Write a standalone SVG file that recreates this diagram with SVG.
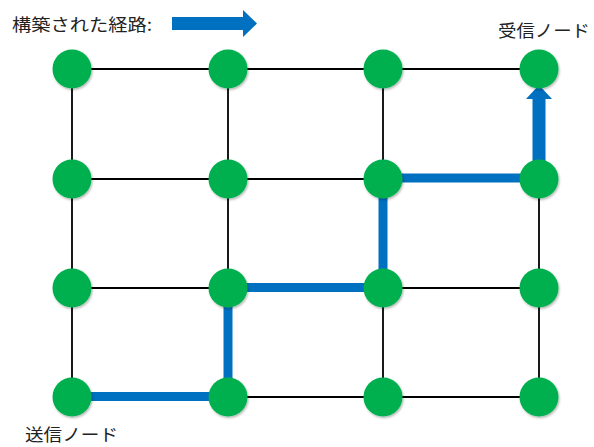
<svg xmlns="http://www.w3.org/2000/svg" width="594" height="447" viewBox="0 0 594 447">
<defs>
<style>
.grid{stroke:#000;stroke-width:1.8;fill:none}
.path{stroke:#0070C0;stroke-width:9;fill:none;stroke-linecap:butt}
.node{fill:#00B050;filter:url(#sh)}
.lbl{font-family:"Noto Sans CJK JP",sans-serif;font-size:17px;fill:#222}
.arrow{fill:#0070C0}
</style>
<filter id="sh" x="-30%" y="-30%" width="160%" height="160%">
<feDropShadow dx="1" dy="1.5" stdDeviation="1.2" flood-color="#000" flood-opacity="0.3"/>
</filter>
</defs>
<rect width="594" height="447" fill="#fff"/>
<g id="legend">
<text class="lbl" x="12" y="31" textLength="140" lengthAdjust="spacingAndGlyphs">構築された経路:</text>
<polygon class="arrow" points="172,17 243,17 243,10 257,23.5 243,37 243,30 172,30"/>
</g>
<g id="connectors">
<g class="grid">
<line x1="72" y1="69" x2="539" y2="69"/>
<line x1="72" y1="179" x2="539" y2="179"/>
<line x1="72" y1="288" x2="539" y2="288"/>
<line x1="72" y1="397" x2="539" y2="397"/>
<line x1="72" y1="69" x2="72" y2="397"/>
<line x1="228" y1="69" x2="228" y2="397"/>
<line x1="383" y1="69" x2="383" y2="397"/>
<line x1="539" y1="69" x2="539" y2="397"/>
</g>
<polyline class="path" points="72,396.5 228,396.5 228,287.5 383,287.5 383,178 539,178"/>
<polygon class="arrow" points="532.5,180 532.5,99 526,99 539,85 552,99 545.5,99 545.5,180"/>
</g>
<g id="n00"><circle class="node" cx="72" cy="69" r="19.5"/></g>
<g id="n01"><circle class="node" cx="228" cy="69" r="19.5"/></g>
<g id="n02"><circle class="node" cx="383" cy="69" r="19.5"/></g>
<g id="n03"><circle class="node" cx="539" cy="69" r="19.5"/></g>
<g id="n10"><circle class="node" cx="72" cy="179" r="19.5"/></g>
<g id="n11"><circle class="node" cx="228" cy="179" r="19.5"/></g>
<g id="n12"><circle class="node" cx="383" cy="179" r="19.5"/></g>
<g id="n13"><circle class="node" cx="539" cy="179" r="19.5"/></g>
<g id="n20"><circle class="node" cx="72" cy="288" r="19.5"/></g>
<g id="n21"><circle class="node" cx="228" cy="288" r="19.5"/></g>
<g id="n22"><circle class="node" cx="383" cy="288" r="19.5"/></g>
<g id="n23"><circle class="node" cx="539" cy="288" r="19.5"/></g>
<g id="n30"><circle class="node" cx="72" cy="397" r="19.5"/></g>
<g id="n31"><circle class="node" cx="228" cy="397" r="19.5"/></g>
<g id="n32"><circle class="node" cx="383" cy="397" r="19.5"/></g>
<g id="n33"><circle class="node" cx="539" cy="397" r="19.5"/></g>
<g id="receiver-label"><text class="lbl" x="498" y="37" textLength="92" lengthAdjust="spacingAndGlyphs">受信ノード</text></g>
<g id="sender-label"><text class="lbl" x="25" y="441" font-size="16" textLength="93" lengthAdjust="spacingAndGlyphs">送信ノード</text></g>
</svg>
